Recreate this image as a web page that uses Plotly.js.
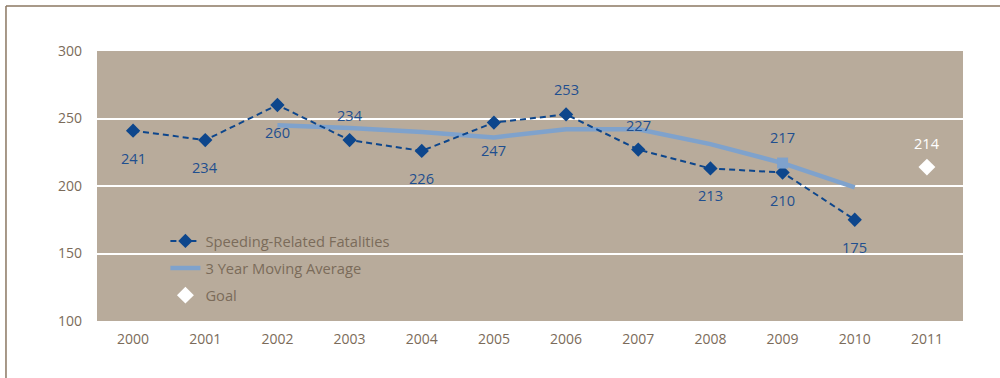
<!DOCTYPE html>
<html><head><meta charset="utf-8">
<script src="https://cdn.plot.ly/plotly-3.0.1.min.js"></script>
<style>html,body{margin:0;padding:0;background:#fff;} #chart{width:1000px;height:378px;}</style>
</head><body><div id="chart"></div>
<script>
// ---- data ----
const years = ['2000','2001','2002','2003','2004','2005','2006','2007','2008','2009','2010','2011'];
const fatalityYears = ['2000','2001','2002','2003','2004','2005','2006','2007','2008','2009','2010'];
const fatalities = [241,234,260,234,226,247,253,227,213,210,175];
const avgYears = ['2002','2003','2004','2005','2006','2007','2008','2009','2010'];
const movingAverage = [245,243,240,236,242,242,231,217,199];
const avgLabelYear = '2009';
const avgLabelValue = 217;
const goalYears = ['2011'];
const goal = [214];
const yTicks = [100,150,200,250,300];

// ---- label placement (style, not data): +1 below point, -1 above ----
const fatalityLabelSide = [1,1,1,-1,1,1,-1,-1,1,1,1];

const darkBlue = '#0d468c';
const labelBlue = '#1f4f8f';
const avgBlue = '#7fa2cc';
const tickColor = '#7b6b5a';
const catIndex = y => years.indexOf(y);

const traces = [
  {x: avgYears, y: movingAverage, name: '3 Year Moving Average', type: 'scatter', mode: 'lines',
   line: {color: avgBlue, width: 4.5}, legendrank: 2, legendgroup: 'b'},
  {x: fatalityYears, y: fatalities, name: 'Speeding-Related Fatalities', type: 'scatter', mode: 'lines+markers',
   line: {color: darkBlue, width: 2, dash: '6px,4px'}, marker: {symbol: 'diamond', size: 11, color: darkBlue},
   legendrank: 1, legendgroup: 'a'},
  {x: [avgLabelYear], y: [avgLabelValue], type: 'scatter', mode: 'markers', showlegend: false,
   marker: {symbol: 'square', size: 11, color: avgBlue}},
  {x: goalYears, y: goal, name: 'Goal', type: 'scatter', mode: 'markers',
   marker: {symbol: 'diamond', size: 13, color: '#ffffff'}, legendrank: 3, legendgroup: 'c'}
];

const labelFont = {family: 'Open Sans', size: 14.6, color: labelBlue};
const annotations = [];
fatalities.forEach((v, i) => {
  annotations.push({x: catIndex(fatalityYears[i]), y: v, text: String(v), showarrow: false,
    yshift: fatalityLabelSide[i] > 0 ? -27 : 25, font: labelFont});
});
annotations.push({x: catIndex(avgLabelYear), y: avgLabelValue, text: String(avgLabelValue), showarrow: false,
  yshift: 26, font: labelFont});
goal.forEach((v, i) => {
  annotations.push({x: catIndex(goalYears[i]), y: v, text: String(v), showarrow: false,
    yshift: 24, font: {family: 'Open Sans', size: 14.6, color: '#ffffff'}});
});

const layout = {
  width: 1000, height: 378,
  margin: {l: 97, r: 37, t: 51, b: 57},
  paper_bgcolor: '#ffffff',
  plot_bgcolor: '#b8ab9b',
  font: {family: 'Open Sans', size: 14, color: tickColor},
  showlegend: true,
  legend: {x: 0.079, y: 0.356, xanchor: 'left', yanchor: 'top', bgcolor: 'rgba(0,0,0,0)',
    font: {family: 'Open Sans', size: 14.7, color: tickColor}, traceorder: 'grouped', tracegroupgap: 5},
  xaxis: {type: 'category', categoryorder: 'array', categoryarray: years, range: [-0.5, 11.5],
    showgrid: false, zeroline: false, showline: false, ticks: '', fixedrange: true,
    tickfont: {family: 'Open Sans', size: 14, color: tickColor}, ticklabelstandoff: 8},
  yaxis: {range: [100, 300], tickvals: yTicks, showgrid: true, gridcolor: '#ffffff', gridwidth: 2,
    zeroline: false, showline: false, ticks: '', fixedrange: true,
    tickfont: {family: 'Open Sans', size: 14, color: tickColor}, ticklabelstandoff: 14},
  annotations: annotations,
  shapes: [
    {type: 'line', xref: 'paper', yref: 'paper', x0: -0.1051, x1: 1.05, y0: 1.1667, y1: 1.1667,
     line: {color: '#8b7762', width: 1.5}},
    {type: 'line', xref: 'paper', yref: 'paper', x0: -0.1051, x1: -0.1051, y0: 1.1667, y1: -0.25,
     line: {color: '#8b7762', width: 1.5}}
  ]
};

Plotly.newPlot('chart', traces, layout, {displayModeBar: false, staticPlot: true});
</script>
</body></html>
